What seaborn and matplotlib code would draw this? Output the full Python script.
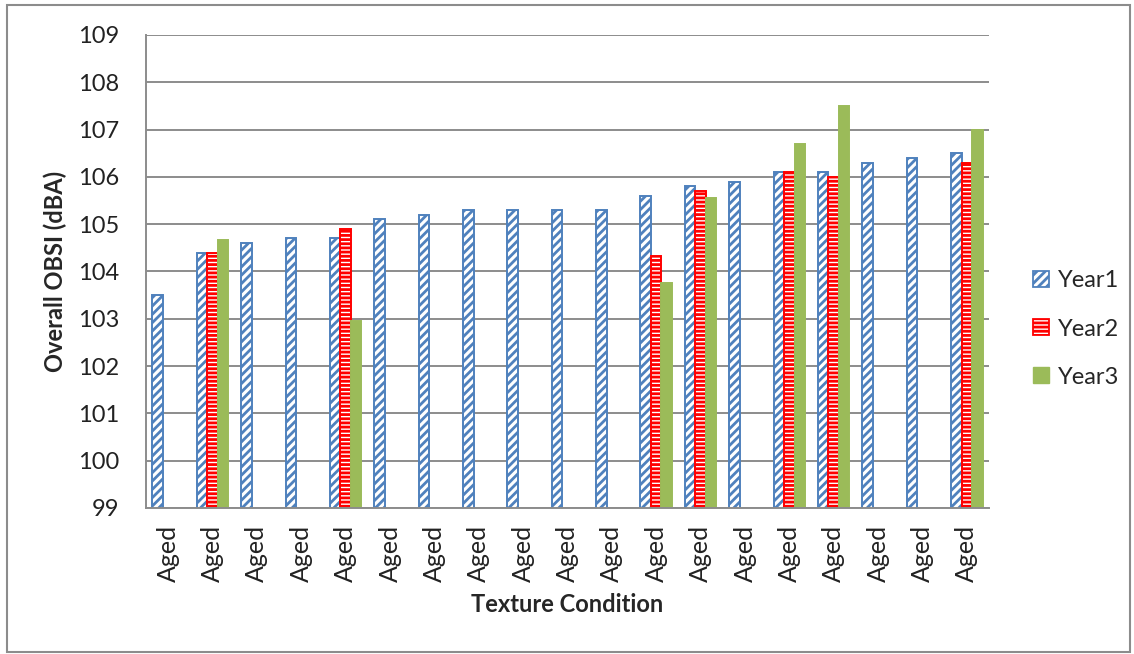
import numpy as np
import pandas as pd
import seaborn as sns
import matplotlib
matplotlib.use("Agg")
import matplotlib.pyplot as plt
from matplotlib.patches import Patch, Rectangle

# ---- data ----
categories = ["Aged"] * 19
year1 = [103.5, 104.4, 104.6, 104.7, 104.7, 105.1, 105.2, 105.3, 105.3, 105.3,
         105.3, 105.6, 105.8, 105.9, 106.1, 106.1, 106.3, 106.4, 106.5]
year2 = [np.nan, 104.4, np.nan, np.nan, 104.9, np.nan, np.nan, np.nan, np.nan, np.nan,
         np.nan, 104.33, 105.7, np.nan, 106.1, 106.0, np.nan, np.nan, 106.3]
year3 = [np.nan, 104.66, np.nan, np.nan, 102.95, np.nan, np.nan, np.nan, np.nan, np.nan,
         np.nan, 103.75, 105.56, np.nan, 106.7, 107.5, np.nan, np.nan, 107.0]
series_names = ["Year1", "Year2", "Year3"]
y_ticks = [99, 100, 101, 102, 103, 104, 105, 106, 107, 108, 109]

rows = []
for i in range(len(categories)):
    for name, vals in zip(series_names, [year1, year2, year3]):
        if not np.isnan(vals[i]):
            rows.append({"idx": i, "series": name, "value": vals[i]})
df = pd.DataFrame(rows)

# ---- style ----
sns.set_style("white")
plt.rcParams["font.family"] = ["Lato", "DejaVu Sans"]
plt.rcParams["hatch.linewidth"] = 2.0

blue = "#4F81BD"
red = "#FF0000"
green = "#9BBB59"
grid = "#8C8C8C"

fig = plt.figure(figsize=(11.34, 6.54), dpi=100)
ax = fig.add_axes([146 / 1134, 1 - 508 / 654, (989 - 146) / 1134, (508 - 35) / 654])

sns.barplot(data=df, x="idx", y="value", hue="series", hue_order=series_names,
            order=list(range(len(categories))), width=0.71, gap=0,
            errorbar=None, ax=ax, legend=False)

styles = {
    "Year1": dict(facecolor="white", edgecolor=blue, hatch="////"),
    "Year2": dict(facecolor="white", edgecolor=red, hatch="----"),
    "Year3": dict(facecolor=green, edgecolor=green, hatch=None),
}
for cont, name in zip(ax.containers, series_names):
    st = styles[name]
    for p in cont.patches:
        p.set_facecolor(st["facecolor"])
        p.set_edgecolor(st["edgecolor"])
        p.set_linewidth(1.4)
        if st["hatch"]:
            p.set_hatch(st["hatch"])

ax.set_ylim(99, 109)
ax.set_yticks(y_ticks)
ax.set_yticklabels([str(t) for t in y_ticks], fontsize=17, color="#222222")
ax.set_xlim(-0.5, len(categories) - 0.5)
ax.set_xticks(range(len(categories)))
ax.set_xticklabels(categories, rotation=90, fontsize=18, color="#222222")
ax.set_xticks(np.arange(-0.5, len(categories)), minor=True)
ax.tick_params(axis="x", which="major", length=0, pad=12)
ax.tick_params(axis="x", which="minor", length=7, width=1.2, color=grid, direction="out")
ax.tick_params(axis="y", length=7, width=1.2, color=grid, direction="out", pad=12)
ax.yaxis.grid(True, color=grid, linewidth=1.4)
ax.set_axisbelow(True)
for s in ["top", "right"]:
    ax.spines[s].set_visible(False)
for s in ["left", "bottom"]:
    ax.spines[s].set_color(grid)
    ax.spines[s].set_linewidth(1.4)

ax.set_ylabel("Overall OBSI (dBA)", fontsize=17, fontweight="bold", labelpad=8)
ax.set_xlabel("Texture Condition", fontsize=17, fontweight="bold", labelpad=8)

handles = [Patch(facecolor="white", edgecolor=blue, hatch="////", linewidth=1.3, label="Year1"),
           Patch(facecolor="white", edgecolor=red, hatch="----", linewidth=1.3, label="Year2"),
           Patch(facecolor=green, edgecolor=green, label="Year3")]
fig.legend(handles=handles, loc="center left", bbox_to_anchor=(1012 / 1134, 1 - 329 / 654),
           frameon=False, fontsize=17, handlelength=0.65, handleheight=0.65,
           handletextpad=0.4, labelspacing=1.15)

fig.patches.append(Rectangle((7 / 1134, 1 - 652 / 654), (1130 - 7) / 1134, (652 - 5) / 654,
                             transform=fig.transFigure, fill=False, edgecolor="#8C8C8C",
                             linewidth=1.5))

fig.savefig("out.png", dpi=100)
